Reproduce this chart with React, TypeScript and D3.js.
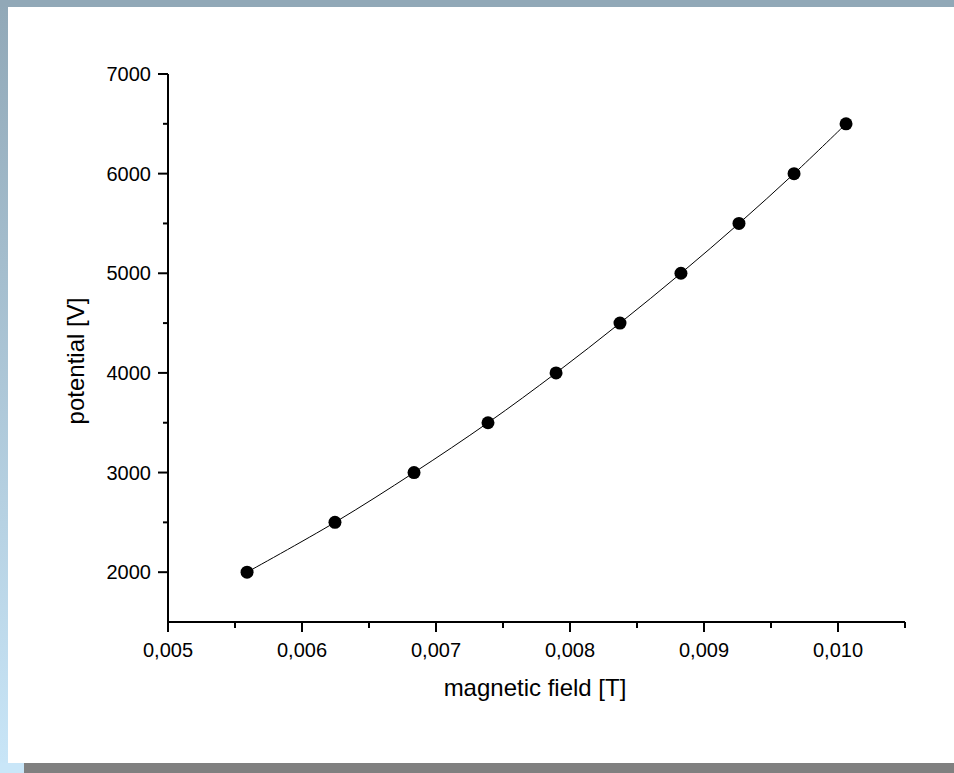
import React from "react";
import * as d3 from "d3";

const fieldT = [0.00559, 0.006246, 0.006836, 0.007388, 0.007896, 0.008373, 0.008828, 0.009261, 0.009672, 0.01006];
const potentialV = [2000, 2500, 3000, 3500, 4000, 4500, 5000, 5500, 6000, 6500];
const xTicks = [0.005, 0.006, 0.007, 0.008, 0.009, 0.01];
const xMinor = [0.0055, 0.0065, 0.0075, 0.0085, 0.0095, 0.0105];
const yTicks = [2000, 3000, 4000, 5000, 6000, 7000];
const yMinor = [2500, 3500, 4500, 5500, 6500];

const W = 954, H = 773;

export default function App() {
  const x = d3.scaleLinear().domain([0.005, 0.0105]).range([168, 905]);
  const y = d3.scaleLinear().domain([1500, 7000]).range([622, 74]);
  const pts: [number, number][] = fieldT.map((f, i) => [x(f), y(potentialV[i])]);
  const line = d3.line().curve(d3.curveCatmullRom.alpha(0.5))(pts) || "";
  const fmt = (v: number) => v.toFixed(3).replace(".", ",");
  const font = "'Liberation Sans', Arial, sans-serif";
  return (
    <svg width={W} height={H} style={{ position: "absolute", left: 0, top: 0 }} fontFamily={font}>
      <defs>
        <linearGradient id="lg" x1="0" y1="0" x2="0" y2="1">
          <stop offset="0" stopColor="#91a8b7" />
          <stop offset="1" stopColor="#c9e6f8" />
        </linearGradient>
      </defs>
      <rect x={0} y={0} width={W} height={H} fill="white" />
      <rect x={0} y={0} width={8} height={H} fill="url(#lg)" />
      <rect x={0} y={0} width={W} height={7} fill="#91a8b7" />
      <rect x={0} y={763} width={24} height={10} fill="#c9e6f8" />
      <rect x={24} y={763} width={W - 24} height={10} fill="#808080" />
      {/* axes */}
      <line x1={168} x2={168} y1={y(7000)} y2={623} stroke="black" strokeWidth={2} />
      <line x1={167} x2={905} y1={622} y2={622} stroke="black" strokeWidth={2} />
      {xTicks.map((t) => (
        <g key={"xt" + t}>
          <line x1={x(t)} x2={x(t)} y1={622} y2={632} stroke="black" strokeWidth={2} />
          <text x={x(t)} y={657} fontSize={20} textAnchor="middle" fill="black">{fmt(t)}</text>
        </g>
      ))}
      {xMinor.map((t) => (
        <line key={"xm" + t} x1={x(t)} x2={x(t)} y1={622} y2={628} stroke="black" strokeWidth={2} />
      ))}
      {yTicks.map((t) => (
        <g key={"yt" + t}>
          <line x1={158} x2={168} y1={y(t)} y2={y(t)} stroke="black" strokeWidth={2} />
          <text x={151} y={y(t) + 7} fontSize={20} textAnchor="end" fill="black">{t}</text>
        </g>
      ))}
      {yMinor.map((t) => (
        <line key={"ym" + t} x1={163} x2={168} y1={y(t)} y2={y(t)} stroke="black" strokeWidth={2} />
      ))}
      <text x={535} y={696} fontSize={24} textAnchor="middle" fill="black">magnetic field [T]</text>
      <text transform="translate(84,361) rotate(-90)" fontSize={24} textAnchor="middle" fill="black">potential [V]</text>
      <path d={line} fill="none" stroke="black" strokeWidth={1} />
      {pts.map((p, i) => (
        <circle key={i} cx={p[0]} cy={p[1]} r={6.5} fill="black" />
      ))}
    </svg>
  );
}
